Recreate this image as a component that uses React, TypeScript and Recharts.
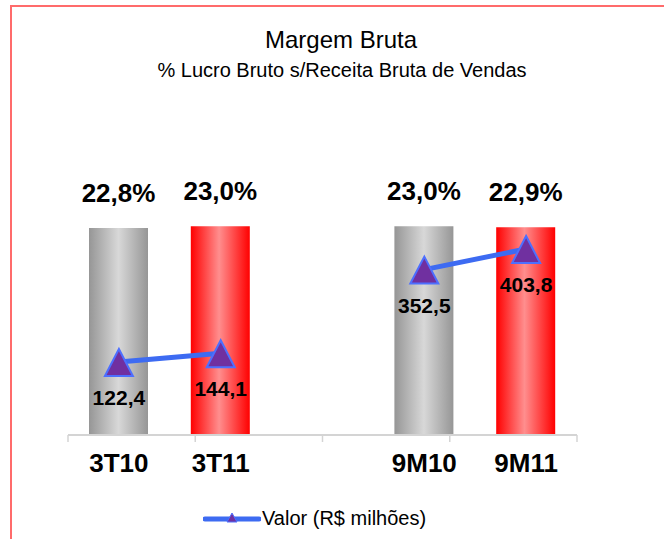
import React from 'react';
import { ComposedChart, Bar, Line, XAxis, YAxis, Cell, LabelList, Legend } from 'recharts';

const categories = ['3T10', '3T11', '', '9M10', '9M11'];
const margem = [22.8, 23.0, null, 23.0, 22.9];
const valor = [122.4, 144.1, null, 352.5, 403.8];
const boundaryTicks = [0, 1, 2, 3, 4, 5];

const chartData = categories.map((name, i) => ({ name, margem: margem[i], valor: valor[i] }));

const FONT = '"Liberation Sans", Arial, sans-serif';
const fmt = (v: any) => (v == null ? '' : Number(v).toFixed(1).replace('.', ','));

function Triangle(props: any) {
  const { cx, cy, index } = props;
  if (cx == null || cy == null || props.value == null) return <g key={`t-${index}`} />;
  const pts = `${cx},${cy - 13} ${cx - 14},${cy + 14} ${cx + 14},${cy + 14}`;
  return <polygon key={`t-${index}`} points={pts} fill="#7030A0" stroke="#4D6FFF" strokeWidth={2} />;
}

function CategoryTick(props: any) {
  const { x, y, payload } = props;
  return (
    <text x={x} y={y} dy={30} textAnchor="middle" fontFamily={FONT} fontWeight="bold" fontSize={26} fill="#000">
      {payload.value}
    </text>
  );
}

function LegendContent() {
  return (
    <div style={{ display: 'flex', alignItems: 'center', fontFamily: FONT, fontSize: 20, color: '#000' }}>
      <svg width={58} height={16}>
        <line x1={2} y1={8} x2={56} y2={8} stroke="#3D6BF2" strokeWidth={5} strokeLinecap="round" />
        <polygon points="29,2 24,11 34,11" fill="#7030A0" stroke="#4D6FFF" strokeWidth={1} />
      </svg>
      <span style={{ marginLeft: 1 }}>Valor (R$ milhões)</span>
    </div>
  );
}

export default function App() {
  return (
    <div style={{ position: 'absolute', left: 0, top: 0, width: 664, height: 539, background: '#fff', overflow: 'hidden' }}>
      <div style={{ position: 'absolute', left: 10, top: 5, width: 700, height: 600, borderTop: '2px solid #ff6b6b', borderLeft: '2px solid #ff6b6b' }} />
      <div style={{ position: 'absolute', left: 0, width: 682, top: 26, textAlign: 'center', fontFamily: FONT, fontSize: 24, lineHeight: '28px', color: '#000' }}>
        Margem Bruta
      </div>
      <div style={{ position: 'absolute', left: 0, width: 684, top: 59, textAlign: 'center', fontFamily: FONT, fontSize: 20, lineHeight: '22px', color: '#000' }}>
        % Lucro Bruto s/Receita Bruta de Vendas
      </div>
      <div style={{ position: 'absolute', left: 0, top: 0 }}>
        <ComposedChart width={664} height={539} data={chartData} margin={{ top: 163, right: 87, left: 68, bottom: 103 }}>
          <defs>
            <linearGradient id="gradGrey" x1="0" y1="0" x2="1" y2="0">
              <stop offset="0%" stopColor="#969696" />
              <stop offset="50%" stopColor="#d8d8d8" />
              <stop offset="100%" stopColor="#969696" />
            </linearGradient>
            <linearGradient id="gradRed" x1="0" y1="0" x2="1" y2="0">
              <stop offset="0%" stopColor="#ff0000" />
              <stop offset="48%" stopColor="#ff8e8e" />
              <stop offset="100%" stopColor="#ff0000" />
            </linearGradient>
          </defs>
          <XAxis
            xAxisId="grid"
            type="number"
            domain={[0, 5]}
            ticks={boundaryTicks}
            height={1}
            tick={{ fontSize: 0 }}
            tickFormatter={() => ''}
            tickSize={7}
            axisLine={{ stroke: '#d4d4d4', strokeWidth: 2 }}
            tickLine={{ stroke: '#d4d4d4', strokeWidth: 1.5 }}
          />
          <XAxis xAxisId="cat" dataKey="name" height={1} axisLine={false} tickLine={false} tick={<CategoryTick />} interval={0} />
          <YAxis yAxisId="pct" hide domain={[0, 30]} />
          <YAxis yAxisId="val" hide orientation="right" domain={[-57, 618]} />
          <Bar xAxisId="cat" yAxisId="pct" dataKey="margem" barSize={59} isAnimationActive={false}>
            {chartData.map((d, i) => (
              <Cell key={i} fill={d.name.endsWith('10') ? 'url(#gradGrey)' : 'url(#gradRed)'} />
            ))}
            <LabelList
              dataKey="margem"
              position="top"
              offset={26}
              formatter={(v: any) => (v == null ? '' : fmt(v) + '%')}
              style={{ fontFamily: FONT, fontWeight: 'bold', fontSize: 26, fill: '#000' }}
            />
          </Bar>
          <Line
            xAxisId="cat"
            yAxisId="val"
            dataKey="valor"
            stroke="#3D6BF2"
            strokeWidth={5}
            dot={(p: any) => <Triangle {...p} />}
            activeDot={false}
            connectNulls={false}
            isAnimationActive={false}
          >
            <LabelList
              dataKey="valor"
              position="bottom"
              offset={28}
              formatter={fmt}
              style={{ fontFamily: FONT, fontWeight: 'bold', fontSize: 21, fill: '#000' }}
            />
          </Line>
          <Legend
            verticalAlign="middle"
            align="center"
            layout="horizontal"
            wrapperStyle={{ top: 507, left: 203, width: 'auto' }}
            content={() => <LegendContent />}
          />
        </ComposedChart>
      </div>
    </div>
  );
}
